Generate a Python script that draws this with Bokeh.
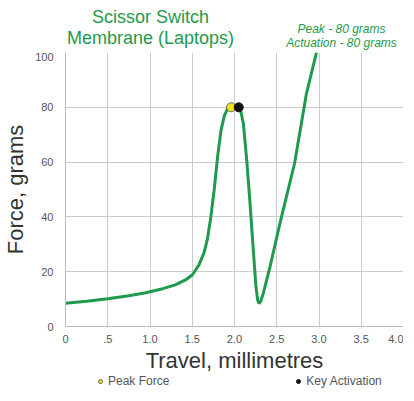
from bokeh.plotting import figure
from bokeh.models import Label, Legend, LegendItem, FixedTicker, Range1d
from bokeh.layouts import column
from bokeh.embed import file_html
from bokeh.resources import INLINE

travel = [0, 0.25, 0.5, 0.75, 0.95, 1.15, 1.3, 1.42, 1.5, 1.58, 1.64, 1.68, 1.72, 1.76, 1.8,
          1.84, 1.88, 1.92, 1.97, 2.02, 2.07, 2.105, 2.145, 2.184, 2.223, 2.254, 2.275, 2.29,
          2.31, 2.34, 2.42, 2.556, 2.71, 2.85, 2.97]
force = [8.5, 9.2, 10.1, 11.2, 12.3, 13.8, 15.2, 17, 18.8, 22.5, 27, 32, 40, 50, 62,
         71.5, 77, 79.6, 80.3, 80.5, 79.3, 74, 60.6, 44.8, 27.8, 14.5, 9.5, 8.4,
         9.2, 12, 21.8, 40, 59.4, 84.8, 100]
peak_x, peak_y = [1.96], [80]
act_x, act_y = [2.05], [80]
x_ticks = [0, 0.5, 1.0, 1.5, 2.0, 2.5, 3.0, 3.5, 4.0]
x_tick_labels = ["0", ".5", "1.0", "1.5", "2.0", "2.5", "3.0", "3.5", "4.0"]
y_ticks = [0, 20, 40, 60, 80, 100]

GREEN = "#1f9a4c"
FONT = "Liberation Sans"
W = 403
LEFT = 65
HH = 52

def bare(fig):
    fig.outline_line_color = None
    fig.xgrid.visible = False
    fig.ygrid.visible = False
    fig.min_border_left = LEFT
    fig.min_border_right = 0
    fig.min_border_top = 0
    fig.min_border_bottom = 0

# header with the titles
h = figure(width=W, height=HH, output_backend="svg", toolbar_location=None,
           x_axis_location=None, y_axis_location=None)
bare(h)
for txt, y in (("Scissor Switch", 6), ("Membrane (Laptops)", 27)):
    h.add_layout(Label(x=85, y=HH - y, x_units="screen", y_units="screen", text=txt,
                       text_align="center", text_baseline="top", text_color=GREEN,
                       text_font=FONT, text_font_size="18px"))
for txt, y in (("Peak - 80 grams", 21), ("Actuation - 80 grams", 35)):
    h.add_layout(Label(x=276, y=HH - y, x_units="screen", y_units="screen", text=txt,
                       text_align="center", text_baseline="top", text_color=GREEN,
                       text_font=FONT, text_font_size="12px", text_font_style="italic"))

# main chart
p = figure(width=W, height=323, x_range=(0, 4), y_range=(0, 100),
           output_backend="svg", toolbar_location=None)
p.min_border_left = LEFT
p.min_border_right = 0
p.min_border_top = 0
p.min_border_bottom = 0
p.background_fill_color = "white"
p.border_fill_color = "white"
p.outline_line_color = None

p.xaxis.ticker = FixedTicker(ticks=x_ticks)
p.xaxis.major_label_overrides = {t: l for t, l in zip(x_ticks, x_tick_labels)}
p.yaxis.ticker = FixedTicker(ticks=y_ticks)
for ax in (p.xaxis, p.yaxis):
    ax.major_tick_line_color = None
    ax.minor_tick_line_color = None
    ax.major_tick_out = 0
    ax.axis_line_color = "#bbbbbb"
    ax.major_label_text_color = "#555555"
    ax.major_label_text_font_size = "11px"
    ax.major_label_text_font = FONT
    ax.axis_label_text_font = FONT
    ax.axis_label_text_font_size = "22px"
    ax.axis_label_text_font_style = "normal"
    ax.axis_label_text_color = "#333333"
p.xaxis.axis_label = "Travel, millimetres"
p.yaxis.axis_label = "Force, grams"
p.xaxis.major_label_standoff = 8
p.yaxis.major_label_standoff = 12
p.xaxis.axis_label_standoff = 2
p.yaxis.axis_label_standoff = 4

p.xgrid.grid_line_color = "#cccccc"
p.ygrid.grid_line_color = "#cccccc"
p.xgrid.ticker = FixedTicker(ticks=x_ticks)
p.ygrid.ticker = FixedTicker(ticks=y_ticks)

p.line(travel, force, line_color=GREEN, line_width=3)
p.scatter(peak_x, peak_y, size=9, fill_color="#f2e41a", line_color="#666666")
p.scatter(act_x, act_y, size=9, fill_color="#111111", line_color="#111111")

# footer holding the legend (its own marker renderers sit outside the footer's view)
f = figure(width=W, height=14, output_backend="svg", toolbar_location=None,
           x_axis_location=None, y_axis_location=None,
           x_range=Range1d(0, 4), y_range=Range1d(200, 300))
bare(f)
f_peak = f.scatter(peak_x, peak_y, size=9, fill_color="#f2e41a", line_color="#666666")
f_act = f.scatter(act_x, act_y, size=9, fill_color="#111111", line_color="#111111")
legend = Legend(items=[LegendItem(label="Peak Force", renderers=[f_peak]),
                       LegendItem(label="Key Activation", renderers=[f_act])],
                orientation="horizontal", spacing=124, label_text_font_size="12px",
                label_text_font=FONT, label_text_color="#555555",
                glyph_width=10, glyph_height=10, label_standoff=3, border_line_color=None,
                label_height=12, background_fill_alpha=0, padding=0, margin=0,
                location=(30, 1))
f.add_layout(legend, "center")

open("out.html", "w").write(file_html(column(h, p, f, spacing=0), INLINE))
